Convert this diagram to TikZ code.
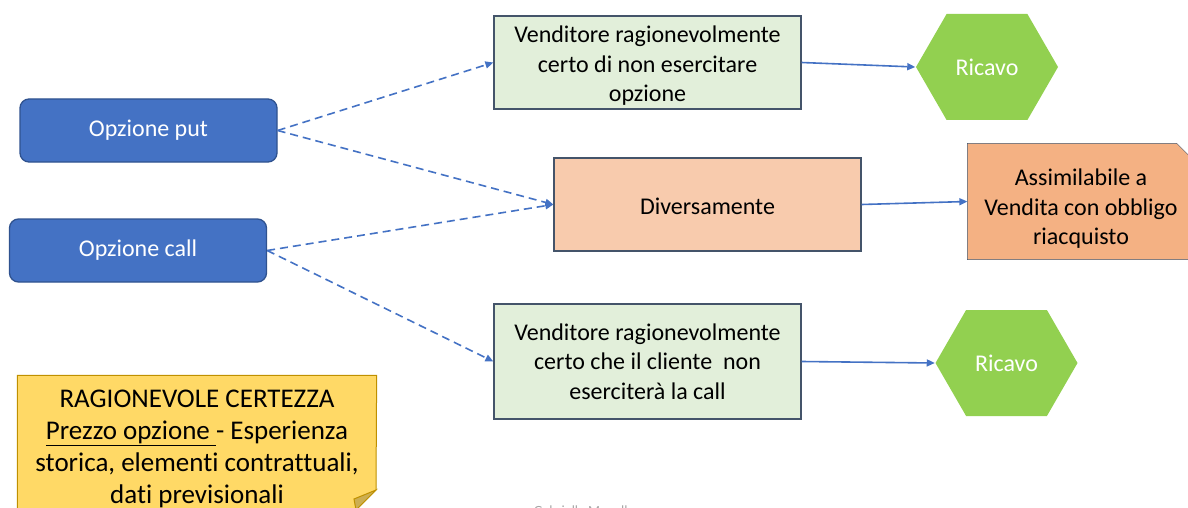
\documentclass[tikz,border=0pt]{standalone}
\usepackage{fontspec}
\setmainfont{Carlito}[Ligatures=NoCommon]
\usetikzlibrary{arrows.meta,shapes.symbols,backgrounds}
\definecolor{optblue}{HTML}{4472C4}
\definecolor{optline}{HTML}{2F528F}
\definecolor{boxgreen}{HTML}{E2EFDA}
\definecolor{boxpeach}{HTML}{F8CBAD}
\definecolor{boxline}{HTML}{44546A}
\definecolor{noteorange}{HTML}{F4B183}
\definecolor{hexgreen}{HTML}{92D050}
\definecolor{noteyellow}{HTML}{FFD966}
\definecolor{yellowline}{HTML}{BF9000}
\definecolor{foldyellow}{HTML}{CCAE52}

\begin{document}
\begin{tikzpicture}[x=1pt,y=-1pt,line width=1.3pt,
    opz/.style={draw=optline,fill=optblue,rounded corners=9pt,minimum width=257pt,minimum height=63pt,text=white,font=\fontsize{24}{28}\selectfont},
    esito/.style={draw=boxline,align=center,minimum width=307pt,font=\fontsize{24}{29.5}\selectfont},
    hexa/.style={signal,signal to=east and west,signal pointer angle=120,fill=hexgreen,minimum width=142pt,minimum height=106pt,text=white,font=\fontsize{24}{28}\selectfont},
    dasharr/.style={optblue,line width=1.6pt,dash pattern=on 8pt off 5pt,-{Triangle[length=8pt,width=7pt]}},
    solarr/.style={optblue,line width=1.6pt,-{Triangle[length=8pt,width=7pt]}}]
	\useasboundingbox (0,0) rectangle (1188,508);
	% sorgenti
	\node[opz] (put) at (148.5,130.5) {Opzione put};
	\node[opz] (call) at (138,250.5) {Opzione call};
	% casi
	\node[esito,fill=boxgreen,minimum height=93pt] (vtop) at (647.5,62.5) {\rule{0pt}{23pt}Venditore ragionevolmente\\certo di non esercitare\\opzione};
	\node[esito,fill=boxpeach,minimum height=93pt] (div) at (707.5,204.5) {\rule{0pt}{21pt}Diversamente};
	\node[esito,fill=boxgreen,minimum height=115pt] (vbot) at (647.5,361.5) {Venditore ragionevolmente\\certo che il cliente\ \ non\\eserciterà la call};
	% esiti
	\node[hexa] (ric1) at (987,67) {Ricavo};
	\node[hexa] (ric2) at (1006.5,363) {Ricavo};
	\node[align=center,minimum width=226pt,minimum height=115pt,font=\fontsize{24}{29.5}\selectfont] (assim) at (1081,201.5) {\rule{0pt}{31pt}Assimilabile a\\Vendita con obbligo\\riacquisto};
	\node[align=center,minimum width=358pt,minimum height=140pt,font=\fontsize{27}{32}\selectfont] (ragion) at (197,446) {\rule{0pt}{23pt}RAGIONEVOLE CERTEZZA\\\underline{Prezzo opzione }- Esperienza\\storica, elementi contrattuali,\\dati previsionali};
	\begin{scope}[on background layer]
		\draw[draw=boxline,fill=noteorange] (assim.north west) -- ([xshift=-18pt]assim.north east) -- ([yshift=-18pt]assim.north east) -- (assim.south east) -- (assim.south west) -- cycle;
		\draw[draw=yellowline,fill=noteyellow,line width=1pt] (ragion.north west) -- (ragion.north east) -- (376,490) -- (356,510) -- (ragion.south west) -- cycle;
		\draw[draw=yellowline,fill=foldyellow,line width=1pt] (376,490) -- (354,499) -- (356,510) -- cycle;
	\end{scope}
	% frecce
	\draw[dasharr] (put.east) -- (vtop.west);
	\draw[dasharr] (put.east) -- (div.west);
	\draw[dasharr] (call.east) -- (div.west);
	\draw[dasharr] (call.east) -- (vbot.west);
	\draw[solarr] (vtop.east) -- (ric1.west);
	\draw[solarr] (div.east) -- (assim.west);
	\draw[solarr] (vbot.east) -- (ric2.west);
	\node[text=black!35,font=\fontsize{14}{16}\selectfont] (firma) at (584,511) {Gabriella Manella};
\end{tikzpicture}
\end{document}
